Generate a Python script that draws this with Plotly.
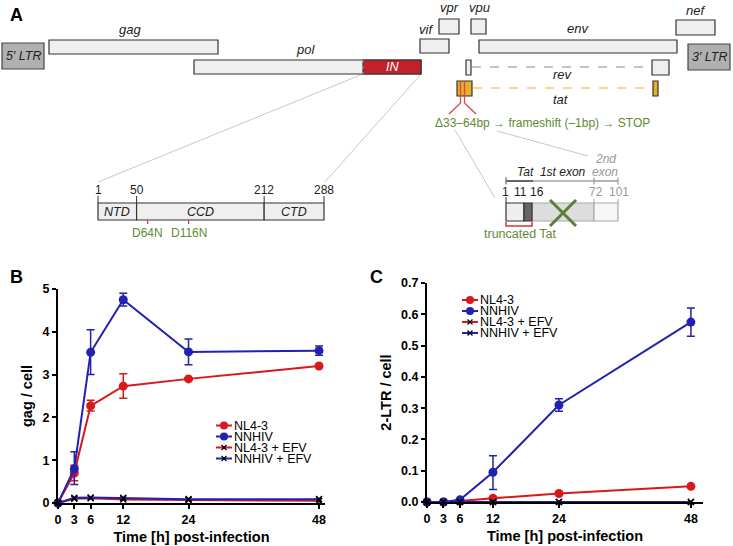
import plotly.graph_objects as go

W, H = 733, 546
FONT = "Arial, 'Liberation Sans', sans-serif"
RED = "#d7191c"
BLUE = "#2222b0"
GREEN = "#5f8a35"

# ---------------- data ----------------
time_h = [0, 3, 6, 12, 24, 48]
time_ticks = [0, 3, 6, 12, 24, 48]

gag_nl43 = [0, 0.70, 2.27, 2.73, 2.90, 3.20]
gag_nl43_err_hi = [0, 0.18, 0.13, 0.29, 0.02, 0.02]
gag_nl43_err_lo = [0, 0.18, 0.12, 0.28, 0.02, 0.02]
gag_nnhiv = [0, 0.80, 3.52, 4.75, 3.53, 3.56]
gag_nnhiv_err_hi = [0, 0.40, 0.53, 0.15, 0.30, 0.11]
gag_nnhiv_err_lo = [0, 0.37, 0.52, 0.15, 0.30, 0.11]
gag_nl43_efv = [0, 0.10, 0.11, 0.08, 0.07, 0.05]
gag_nnhiv_efv = [0, 0.12, 0.13, 0.12, 0.09, 0.09]

ltr_nl43 = [0, 0, 0.003, 0.012, 0.027, 0.050]
ltr_nl43_err = [0, 0, 0.001, 0.002, 0.002, 0.002]
ltr_nnhiv = [0, 0, 0.007, 0.095, 0.310, 0.575]
ltr_nnhiv_err_hi = [0, 0, 0.002, 0.053, 0.020, 0.045]
ltr_nnhiv_err_lo = [0, 0, 0.002, 0.055, 0.020, 0.045]
ltr_nl43_efv = [0, 0, 0, 0, 0, 0]
ltr_nnhiv_efv = [0, 0, 0, 0, 0, 0]

series_names = ["NL4-3", "NNHIV", "NL4-3 + EFV", "NNHIV + EFV"]

# HIV genome schematic (layout units)
genes = ["gag", "pol", "vif", "vpr", "vpu", "env", "nef"]
gene_x0 = [49, 194, 420, 439, 471, 479, 676]
gene_x1 = [218, 421, 449, 459, 486, 677, 715]
gene_y0 = [40, 60, 39, 19, 19, 40, 20]
gene_y1 = [54, 74, 53, 34, 34, 53, 35]
gene_lab_x = [130, 305, 426, 450, 479, 578, 695]
gene_lab_y = [29, 49, 29, 8, 8, 28, 10]

in_domains = ["NTD", "CCD", "CTD"]
in_bounds = [1, 50, 212, 288]
in_mutations = [("D64N", 64), ("D116N", 116)]

tat_positions = [1, 11, 16, 72, 101]

# ---------------- helpers ----------------
def px(x):
    return x / W

def py(y):
    return 1 - y / H

shapes = []
annots = []

def rect(x0, x1, y0, y1, fill, line="#333333", lw=1, dash=None):
    shapes.append(dict(type="rect", xref="paper", yref="paper",
                       x0=px(x0), x1=px(x1), y0=py(y1), y1=py(y0),
                       fillcolor=fill, line=dict(color=line, width=lw, dash=dash), layer="above"))

def line(x0, y0, x1, y1, color, lw=1, dash=None):
    shapes.append(dict(type="line", xref="paper", yref="paper",
                       x0=px(x0), y0=py(y0), x1=px(x1), y1=py(y1),
                       line=dict(color=color, width=lw, dash=dash), layer="above"))

def circ(cx, cy, r, color):
    shapes.append(dict(type="circle", xref="paper", yref="paper",
                       x0=px(cx - r), x1=px(cx + r), y0=py(cy + r), y1=py(cy - r),
                       fillcolor=color, line=dict(color=color, width=0), layer="above"))

def text(x, y, s, size=12, color="black", xanchor="center", bold=False, italic=False):
    if italic:
        s = "<i>" + s + "</i>"
    if bold:
        s = "<b>" + s + "</b>"
    annots.append(dict(x=px(x), y=py(y), xref="paper", yref="paper", text=s,
                       showarrow=False, xanchor=xanchor, yanchor="middle",
                       font=dict(family=FONT, size=size, color=color)))

# ---------------- panel A ----------------
text(16, 15, "A", 18, bold=True)
text(16, 277, "B", 18, bold=True)
text(376, 277, "C", 18, bold=True)

# zoom-out lines
line(363, 74, 98, 182, "#c8c8c8", 1)
line(421, 74, 325, 182, "#c8c8c8", 1)
line(455, 130, 495, 198, "#c8c8c8", 1)
line(497, 131, 588, 156, "#c8c8c8", 1)

# LTRs
rect(2, 44, 43, 69, "#b0b0b0", "#444444", 1.2)
text(23, 56, "5′ LTR", 12.5, "#222222", italic=True)
rect(688, 730, 44, 70, "#b0b0b0", "#444444", 1.2)
text(709, 57, "3′ LTR", 12.5, "#222222", italic=True)

for g, a, b, c, d, lx, ly in zip(genes, gene_x0, gene_x1, gene_y0, gene_y1, gene_lab_x, gene_lab_y):
    rect(a, b, c, d, "#efefef", "#333333", 1.2)
    text(lx, ly, g, 13, "#222222", italic=True)

# integrase in pol
rect(363, 421, 60, 74, "#c0222c", "#333333", 1.2)
line(363, 60, 363, 74, "#aaaaaa", 1, "dot")
text(392, 67, "IN", 12.5, "white", italic=True)

# rev
rect(466, 471, 60, 75, "#efefef", "#333333", 1.2)
rect(652, 669, 60, 75, "#efefef", "#333333", 1.2)
line(472, 67, 651, 67, "#888888", 1, "dash")
text(563, 75, "rev", 13, "#222222", italic=True)

# tat
rect(457, 472, 81, 96, "#e6b12a", "#333333", 1.2)
rect(653, 658, 81, 96, "#e6b12a", "#333333", 1.2)
line(473, 88, 652, 88, "#f0b020", 1.2, "dash")
text(561, 99, "tat", 13, "#222222", italic=True)

# deletion marks
line(460.5, 81, 460.5, 103, "#d84848", 1.3)
line(464.5, 81, 464.5, 103, "#d84848", 1.3)
line(460.5, 103, 449, 114, "#d84848", 1.3)
line(464.5, 103, 476, 114, "#d84848", 1.3)
text(542, 123, "Δ33–64bp → frameshift (–1bp) → STOP", 12, GREEN)

# IN domain detail
scale_in = (324 - 98) / (in_bounds[-1] - in_bounds[0])
def in_x(pos):
    return 98 + (pos - in_bounds[0]) * scale_in

for i, dname in enumerate(in_domains):
    xa, xb = in_x(in_bounds[i]), in_x(in_bounds[i + 1])
    rect(xa, xb, 203, 220, "#efefef", "#333333", 1.2)
    text((xa + xb) / 2, 212, dname, 12.5, "#222222", italic=True)
for b in in_bounds:
    line(in_x(b), 196, in_x(b), 203, "#333333", 1)
    text(in_x(b), 190, str(b), 12, "#222222")
for mname, mpos in in_mutations:
    mx = in_x(mpos)
    line(mx, 220, mx, 224, "#e03030", 1.2)
    text(mx, 233, mname, 12, GREEN)

# Tat detail
line(506, 181, 533, 181, "#666666", 2)
line(533, 181, 594, 181, "#bbbbbb", 2)
line(594, 181, 618, 181, "#999999", 1.5)
line(506, 177.5, 506, 184.5, "#666666", 1.2)
line(594, 177.5, 594, 184.5, "#999999", 1.2)
line(618, 177.5, 618, 184.5, "#999999", 1.2)
text(551, 172, "Tat  1st exon", 12, "#222222", italic=True)
text(605, 159, "2nd", 12, "#999999", italic=True)
text(605, 172, "exon", 12, "#999999", italic=True)

rect(532, 594, 203, 221, "#dddddd", "#aaaaaa", 1.2)
rect(594, 618, 203, 221, "#f6f6f6", "#aaaaaa", 1.2)
rect(506, 524, 203, 221, "#eeeeee", "#333333", 1.2)
rect(524, 532, 203, 221, "#666666", "#333333", 1.2)
num_pos = {1: 505, 11: 520, 16: 537, 72: 596, 101: 619}
for p in tat_positions:
    col = "#222222" if p < 20 else "#999999"
    text(num_pos[p], 192, str(p), 12, col)
line(506, 197, 506, 203, "#333333", 1)
line(594, 199, 594, 203, "#f0a070", 1.2)
line(618, 199, 618, 203, "#f0a070", 1.2)
line(550, 200, 576, 226, "#5b7f3a", 3)
line(550, 226, 576, 200, "#5b7f3a", 3)
shapes.append(dict(type="path", xref="paper", yref="paper",
                   path=f"M{px(506)},{py(222)} L{px(506)},{py(226)} L{px(532)},{py(226)} L{px(532)},{py(222)}",
                   line=dict(color="#e03030", width=1.5), layer="above"))
text(520, 234, "truncated Tat", 12.5, GREEN)

# ---------------- manual legends ----------------
def legend(x0, ys, xt):
    cols = [RED, BLUE, RED, BLUE]
    for i, (nm, yy, c) in enumerate(zip(series_names, ys, cols)):
        line(x0, yy, x0 + 16, yy, c, 2)
        if i < 2:
            circ(x0 + 8, yy, 4, c)
        else:
            line(x0 + 5.5, yy - 2.5, x0 + 10.5, yy + 2.5, "black", 1.3)
            line(x0 + 5.5, yy + 2.5, x0 + 10.5, yy - 2.5, "black", 1.3)
        text(xt, yy, nm, 12.5, "black", xanchor="left")

legend(216, [425.5, 436.5, 447.5, 458.5], 232)
legend(462, [300, 311, 322, 333], 478)

# ---------------- traces ----------------
fig = go.Figure()

def add(xa, ya, y, name, color, marker, err_hi=None, err_lo=None):
    ekw = None
    if err_hi is not None:
        ekw = dict(type="data", symmetric=False, array=err_hi, arrayminus=err_lo,
                   color=color, thickness=1.5, width=4)
    if marker == "circle":
        mk = dict(symbol="circle", size=9, color=color)
    else:
        mk = dict(symbol="x-thin", size=6, color="black", line=dict(color="black", width=1.5))
    fig.add_trace(go.Scatter(x=time_h, y=y, name=name, mode="lines+markers",
                             line=dict(color=color, width=2), marker=mk,
                             error_y=ekw, xaxis=xa, yaxis=ya, cliponaxis=False,
                             showlegend=False))

add("x", "y", gag_nl43, "NL4-3", RED, "circle", gag_nl43_err_hi, gag_nl43_err_lo)
add("x", "y", gag_nnhiv, "NNHIV", BLUE, "circle", gag_nnhiv_err_hi, gag_nnhiv_err_lo)
add("x", "y", gag_nl43_efv, "NL4-3 + EFV", RED, "x")
add("x", "y", gag_nnhiv_efv, "NNHIV + EFV", BLUE, "x")

add("x2", "y2", ltr_nl43, "NL4-3", RED, "circle", ltr_nl43_err, ltr_nl43_err)
add("x2", "y2", ltr_nnhiv, "NNHIV", BLUE, "circle", ltr_nnhiv_err_hi, ltr_nnhiv_err_lo)
add("x2", "y2", ltr_nl43_efv, "NL4-3 + EFV", RED, "x")
add("x2", "y2", ltr_nnhiv_efv, "NNHIV + EFV", BLUE, "x")

axis_common = dict(showline=True, linecolor="black", linewidth=2, ticks="outside",
                   ticklen=4, tickwidth=2, tickcolor="black", showgrid=False, zeroline=False,
                   automargin=False,
                   tickfont=dict(family=FONT, size=12.5, color="black", weight="bold"))
title_font = dict(family=FONT, size=14.5, color="black", weight="bold")

fig.update_layout(
    width=W, height=H, margin=dict(l=0, r=0, t=0, b=0, autoexpand=False),
    paper_bgcolor="white", plot_bgcolor="white",
    font=dict(family=FONT),
    showlegend=False,
    xaxis=dict(domain=[px(58), px(325)], range=[0, 49.1], tickvals=time_ticks,
               title=dict(text="Time [h] post-infection", font=title_font, standoff=6),
               anchor="y", **axis_common),
    yaxis=dict(domain=[py(503), py(289)], range=[0, 5], dtick=1,
               title=dict(text="gag / cell", font=title_font, standoff=6),
               anchor="x", **axis_common),
    xaxis2=dict(domain=[px(427), px(703)], range=[0, 50.2], tickvals=time_ticks,
                title=dict(text="Time [h] post-infection", font=title_font, standoff=6),
                anchor="y2", **axis_common),
    yaxis2=dict(domain=[py(502), py(283)], range=[0, 0.7], dtick=0.1, tickformat=".1f",
                title=dict(text="2-LTR / cell", font=title_font, standoff=6),
                anchor="x2", **axis_common),
    shapes=shapes, annotations=annots,
)

fig.write_html("out.html", config={"displayModeBar": False},
               post_script="document.body.style.margin='0px';document.body.style.overflow='hidden';")
